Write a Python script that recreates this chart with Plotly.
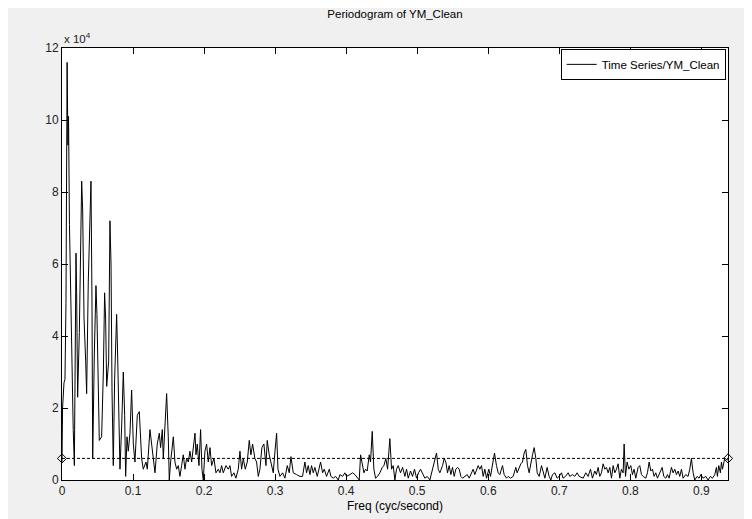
import plotly.graph_objects as go

# ---- data (power in units of 1e4) ----
freq = [
    0.0, 0.0008, 0.0028, 0.0042, 0.0056, 0.0072, 0.0083, 0.0092, 0.0105, 0.012,
    0.0138, 0.0158, 0.0174, 0.0197, 0.0206, 0.0220, 0.0244, 0.0277, 0.0291, 0.0310,
    0.0333, 0.0347, 0.0370, 0.0394, 0.0408, 0.0422, 0.0432, 0.0455, 0.0478, 0.0492,
    0.0511, 0.0525, 0.0558, 0.0582, 0.0600, 0.0614, 0.0629, 0.0657, 0.0675, 0.0690,
    0.0704, 0.0722, 0.0741, 0.0769, 0.0783, 0.0797, 0.0816, 0.0840, 0.0863, 0.0882,
    0.0896, 0.0915, 0.0933, 0.0957, 0.0980, 0.1004, 0.1027, 0.1060, 0.1088,
    0.1121, 0.1144, 0.1182, 0.1201, 0.1238, 0.1276, 0.1309, 0.1341, 0.1370, 0.1388,
    0.1412, 0.1426, 0.1449, 0.1473, 0.1496, 0.1510, 0.1529, 0.1553, 0.1567, 0.1590,
    0.1614, 0.1637, 0.1660, 0.1684, 0.1707, 0.1731, 0.1754, 0.1778, 0.1801, 0.1825,
    0.1848, 0.1872, 0.1886, 0.1904, 0.1928, 0.1951, 0.1970, 0.1989, 0.2012, 0.2036,
    0.2059, 0.2083, 0.2106, 0.2139, 0.2167, 0.2200, 0.2223, 0.2247, 0.2270, 0.2308,
    0.2341, 0.2364, 0.2387, 0.2420, 0.2448, 0.2481, 0.2505, 0.2528, 0.2552, 0.2580,
    0.2608, 0.2636, 0.2659, 0.2683, 0.2715, 0.2739, 0.2763, 0.2786, 0.2814, 0.2842,
    0.2871, 0.2889, 0.2917, 0.2950, 0.2974, 0.2998, 0.3021, 0.3040, 0.3068,
    0.3105, 0.3138, 0.3171, 0.3199, 0.3223, 0.3255, 0.3302, 0.3349, 0.3386, 0.3419,
    0.3443, 0.3466, 0.3490, 0.3513, 0.3537, 0.3560, 0.3593, 0.3621, 0.3640, 0.3668,
    0.3692, 0.3724, 0.3762, 0.3785, 0.3818, 0.3851, 0.3889, 0.3912, 0.3950, 0.3982,
    0.4006, 0.4053, 0.4090, 0.4123, 0.4156, 0.4184, 0.4203, 0.4227, 0.4250, 0.4273,
    0.4296, 0.4325, 0.4343, 0.4367, 0.4390, 0.4414, 0.4442, 0.4475, 0.4508, 0.4531,
    0.4559, 0.4583, 0.4615, 0.4639, 0.4662, 0.4686, 0.4709, 0.4733, 0.4765, 0.4794,
    0.4827, 0.4850, 0.4874, 0.4906, 0.4934, 0.4962, 0.4991, 0.5019, 0.5047,
    0.5108, 0.5141, 0.5178, 0.5216, 0.5249, 0.5272, 0.5296, 0.5319, 0.5357, 0.5380,
    0.5403, 0.5427, 0.5450, 0.5474, 0.5497, 0.5521, 0.5544, 0.5568, 0.5591, 0.5615,
    0.5638, 0.5671, 0.5704, 0.5732, 0.5765, 0.5788, 0.5811, 0.5835, 0.5858, 0.5882,
    0.5905, 0.5929, 0.5952, 0.5976, 0.6008, 0.6032, 0.6060, 0.6088, 0.6116, 0.6140,
    0.6163, 0.6201, 0.6224, 0.6257, 0.6281, 0.6313, 0.6351, 0.6388, 0.6407, 0.6435,
    0.6459, 0.6482, 0.6506, 0.6529, 0.6553, 0.6576, 0.6600, 0.6623, 0.6647, 0.6670,
    0.6689, 0.6717, 0.6750, 0.6773, 0.6797, 0.6829, 0.6857, 0.6881, 0.6904, 0.6937,
    0.6970, 0.6998, 0.7031, 0.7054, 0.7087, 0.7125, 0.7148, 0.7186, 0.7218, 0.7251,
    0.7280,
    0.7336, 0.7373, 0.7406, 0.7439, 0.7467, 0.7500, 0.7523, 0.7547, 0.7570, 0.7594,
    0.7617, 0.7641, 0.7664, 0.7688, 0.7711, 0.7735, 0.7758, 0.7782, 0.7805, 0.7828,
    0.7852, 0.7875, 0.7899, 0.7913, 0.7932, 0.7955, 0.7979, 0.8007, 0.8030, 0.8053,
    0.8077, 0.8110, 0.8133, 0.8157, 0.8180, 0.8218, 0.8241, 0.8265, 0.8288, 0.8312,
    0.8335, 0.8358, 0.8382, 0.8415, 0.8448, 0.8471, 0.8499, 0.8523, 0.8546, 0.8579,
    0.8602, 0.8626, 0.8649, 0.8673, 0.8696, 0.8720, 0.8743, 0.8780, 0.8813, 0.8837,
    0.8860, 0.8884, 0.8907, 0.8940, 0.8968, 0.8992, 0.9024, 0.9062, 0.9095, 0.9128,
    0.9156, 0.9189, 0.9212, 0.9226, 0.9245, 0.9268, 0.9283, 0.9297, 0.9315, 0.9329,
    0.9375,
]

power_e4 = [
    0.5, 2.0, 2.7, 2.8, 4.9, 11.6, 9.3, 10.1, 7.1, 5.2,
    3.1, 1.4, 0.4, 6.3, 5.2, 2.3, 4.1, 8.3, 7.5, 4.5,
    3.3, 2.4, 5.5, 7.9, 8.3, 5.0, 0.6, 3.5, 5.4, 4.6,
    2.5, 1.1, 1.2, 3.0, 5.2, 4.5, 2.6, 3.3, 7.2, 6.0,
    2.5, 0.4, 2.8, 4.6, 3.5, 1.5, 0.3, 1.5, 3.0, 1.8,
    0.1, 1.2, 0.8, 1.3, 2.5, 1.0, 0.5, 1.8, 1.9,
    0.6, 0.3, 0.5, 0.3, 1.4, 0.7, 0.2, 1.0, 1.3, 0.9,
    1.4, 0.6, 1.5, 2.4, 1.2, 0.0, 0.5, 1.0, 1.2, 0.5,
    0.3, 0.4, 0.1, 0.4, 0.7, 0.3, 0.6, 0.5, 0.8, 0.5,
    0.9, 1.3, 0.7, 1.0, 0.4, 1.4, 0.3, 0.0, 0.8, 1.0,
    0.5, 0.9, 0.4, 0.6, 0.2, 0.3, 0.2, 0.4, 0.2, 0.4,
    0.3, 0.4, 0.1, 0.2, 0.05, 0.3, 0.8, 0.3, 0.6, 0.3,
    0.5, 1.1, 0.7, 1.0, 0.6, 0.5, 0.1, 0.3, 0.9, 1.0,
    0.4, 1.1, 0.7, 0.4, 0.2, 0.8, 1.3, 0.3, 0.1,
    0.2, 0.05, 0.4, 0.2, 0.65, 0.2, 0.15, 0.1, 0.1, 0.5,
    0.2, 0.4, 0.15, 0.4, 0.2, 0.35, 0.1, 0.4, 0.5, 0.2,
    0.3, 0.1, 0.3, 0.1, 0.05, 0.1, 0.0, 0.15, 0.1, 0.2,
    0.1, 0.15, 0.2, 0.15, 0.05, 0.0, 0.7, 0.4, 0.2, 0.3,
    0.25, 0.7, 0.5, 1.35, 0.3, 0.05, 0.1, 0.2, 0.35, 0.4,
    0.6, 0.3, 1.15, 0.3, 0.4, 0.0, 0.3, 0.4, 0.2, 0.35,
    0.1, 0.3, 0.05, 0.25, 0.1, 0.3, 0.05, 0.2, 0.3,
    0.05, 0.1, 0.0, 0.3, 0.6, 0.75, 0.3, 0.2, 0.4, 0.6,
    0.5, 0.2, 0.4, 0.15, 0.35, 0.1, 0.3, 0.35, 0.3, 0.1,
    0.05, 0.1, 0.15, 0.05, 0.2, 0.3, 0.15, 0.3, 0.4, 0.3,
    0.4, 0.1, 0.3, 0.05, 0.3, 0.1, 0.5, 0.75, 0.4, 0.2,
    0.15, 0.4, 0.15, 0.05, 0.1, 0.05, 0.1, 0.35, 0.2, 0.35,
    0.45, 0.5, 0.75, 0.85, 0.4, 0.2, 0.5, 0.7, 0.9, 0.6,
    0.2, 0.1, 0.4, 0.2, 0.05, 0.35, 0.1, 0.0, 0.15, 0.2,
    0.05, 0.1, 0.2, 0.05, 0.1, 0.2, 0.1, 0.15, 0.1, 0.2,
    0.1,
    0.05, 0.2, 0.1, 0.3, 0.05, 0.25, 0.15, 0.35, 0.1, 0.2,
    0.45, 0.3, 0.35, 0.2, 0.35, 0.05, 0.4, 0.2, 0.3, 0.45,
    0.05, 0.3, 0.2, 1.0, 0.1, 0.5, 0.3, 0.4, 0.15, 0.3,
    0.05, 0.35, 0.4, 0.15, 0.1, 0.05, 0.2, 0.5, 0.25, 0.3,
    0.1, 0.2, 0.05, 0.2, 0.35, 0.1, 0.05, 0.15, 0.05, 0.35,
    0.2, 0.3, 0.15, 0.25, 0.1, 0.3, 0.05, 0.15, 0.1, 0.3,
    0.6, 0.2, 0.0, 0.1, 0.05, 0.15, 0.05, 0.1, 0.0, 0.1,
    0.05, 0.15, 0.35, 0.1, 0.4, 0.2, 0.5, 0.3, 0.45, 0.6,
    0.55,
]

threshold_freq = [0.0, 0.9375]
threshold_e4 = [0.6, 0.6]

x_tickvals = [0, 0.1, 0.2, 0.3, 0.4, 0.5, 0.6, 0.7, 0.8, 0.9]
x_ticktext = ["0", "0.1", "0.2", "0.3", "0.4", "0.5", "0.6", "0.7", "0.8", "0.9"]
y_tickvals = [0, 2, 4, 6, 8, 10, 12]
y_ticktext = ["0", "2", "4", "6", "8", "10", "12"]

series_name = "Time Series/YM_Clean"
title_text = "Periodogram of YM_Clean"
xlabel_text = "Freq (cyc/second)"

FONT = "Liberation Sans, Arial, Helvetica, sans-serif"

fig = go.Figure()
fig.add_trace(go.Scatter(
    x=freq, y=power_e4, mode="lines", name=series_name,
    line=dict(color="#000000", width=1),
))
fig.add_trace(go.Scatter(
    x=threshold_freq, y=threshold_e4, mode="lines+markers", showlegend=False,
    line=dict(color="#000000", width=1, dash="3px,2px"),
    marker=dict(symbol="diamond-open", size=7, color="#000000", line=dict(width=1)),
    cliponaxis=False,
))

axis_common = dict(
    showline=True, linecolor="#000000", linewidth=1, mirror="ticks",
    ticks="inside", ticklen=6, tickcolor="#000000", tickwidth=1,
    showgrid=False, zeroline=False,
    tickfont=dict(family=FONT, size=12, color="#222222"),
)

fig.update_layout(
    width=752, height=519,
    margin=dict(l=54, r=32, t=40, b=47),
    paper_bgcolor="#f0f0f0",
    plot_bgcolor="#ffffff",
    font=dict(family=FONT, size=12, color="#000000"),
    title=dict(text=title_text, xref="paper", x=0.5, xanchor="center",
               y=1 - 6 / 519, yanchor="middle",
               font=dict(family=FONT, size=11.5, color="#000000")),
    xaxis=dict(range=[0, 0.9375], tickvals=x_tickvals, ticktext=x_ticktext, **axis_common),
    yaxis=dict(range=[0, 12], tickvals=y_tickvals, ticktext=y_ticktext, **axis_common),
    showlegend=True,
    legend=dict(x=0.9965, xanchor="right", y=0.998, yanchor="top",
                bgcolor="#ffffff", bordercolor="#000000", borderwidth=1,
                font=dict(family=FONT, size=11.5, color="#000000"),
                itemwidth=30, tracegroupgap=0),
    annotations=[
        dict(text="x 10<sup>4</sup>", xref="paper", yref="paper", x=0, y=1,
             xanchor="left", yanchor="bottom", yshift=1, showarrow=False,
             font=dict(family=FONT, size=11.5, color="#222222")),
        dict(text=xlabel_text, xref="paper", yref="paper", x=0.5, y=-0.06,
             xanchor="center", yanchor="middle", showarrow=False,
             font=dict(family=FONT, size=12, color="#000000")),
    ],
)

fig.write_html("out.html")
